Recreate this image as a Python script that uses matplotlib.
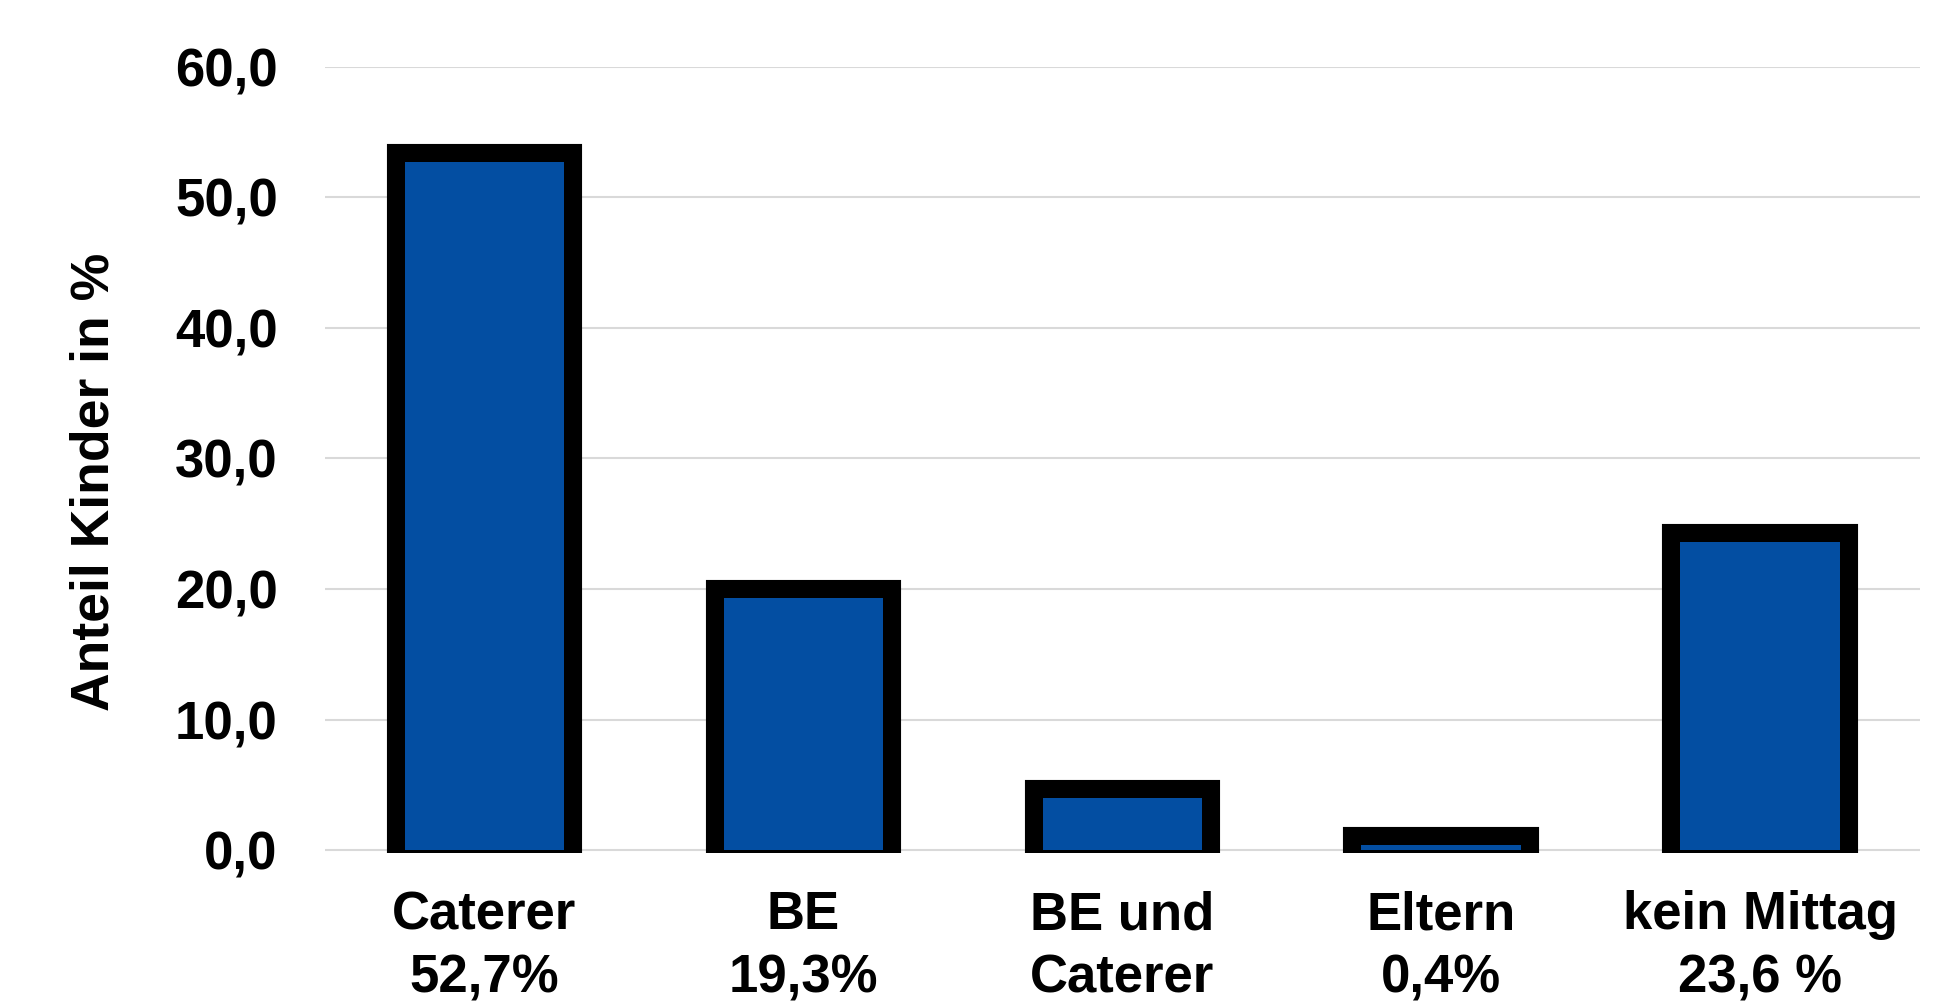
import numpy as np
import matplotlib
matplotlib.use("Agg")
import matplotlib.pyplot as plt

# data
categories = ["Caterer\n52,7%", "BE\n19,3%", "BE und\nCaterer", "Eltern\n0,4%", "kein Mittag\n23,6 %"]
values = [52.7, 19.3, 4.0, 0.4, 23.6]
yticks = [0, 10, 20, 30, 40, 50, 60]

plt.rcParams['font.family'] = ['Liberation Sans', 'DejaVu Sans']
plt.rcParams['font.weight'] = 'bold'

fig = plt.figure(figsize=(19.4, 10.07), dpi=100)
ax = fig.add_axes([0.1675, 0.1532, 0.822, 0.7806])

x = np.arange(len(values))
# thick black outline drawn first, blue fill on top so the border sits outside
ax.bar(x, values, width=0.5, color='black', edgecolor='black', linewidth=26, zorder=2)
ax.bar(x, values, width=0.5, color='#034EA2', linewidth=0, zorder=3)

ax.set_xlim(-0.5, 4.5)
ax.set_ylim(-0.2, 60)
ax.set_yticks(yticks)
ax.set_yticklabels([f"{v:.1f}".replace('.', ',') for v in yticks], fontsize=38, fontweight='bold')
ax.set_xticks(x)
ax.set_xticklabels(categories, fontsize=38, fontweight='bold', linespacing=1.33)
ax.tick_params(axis='both', length=0)
ax.tick_params(axis='y', pad=34)
ax.tick_params(axis='x', pad=27)

ax.grid(axis='y', color='#d9d9d9', linewidth=1.5, zorder=0)
ax.set_axisbelow(True)
for s in ax.spines.values():
    s.set_visible(False)

ax.set_ylabel("Anteil Kinder in %", fontsize=38.5, fontweight='bold')
ax.yaxis.set_label_coords(-0.129, 0.472)

fig.savefig("out.png", dpi=100)
